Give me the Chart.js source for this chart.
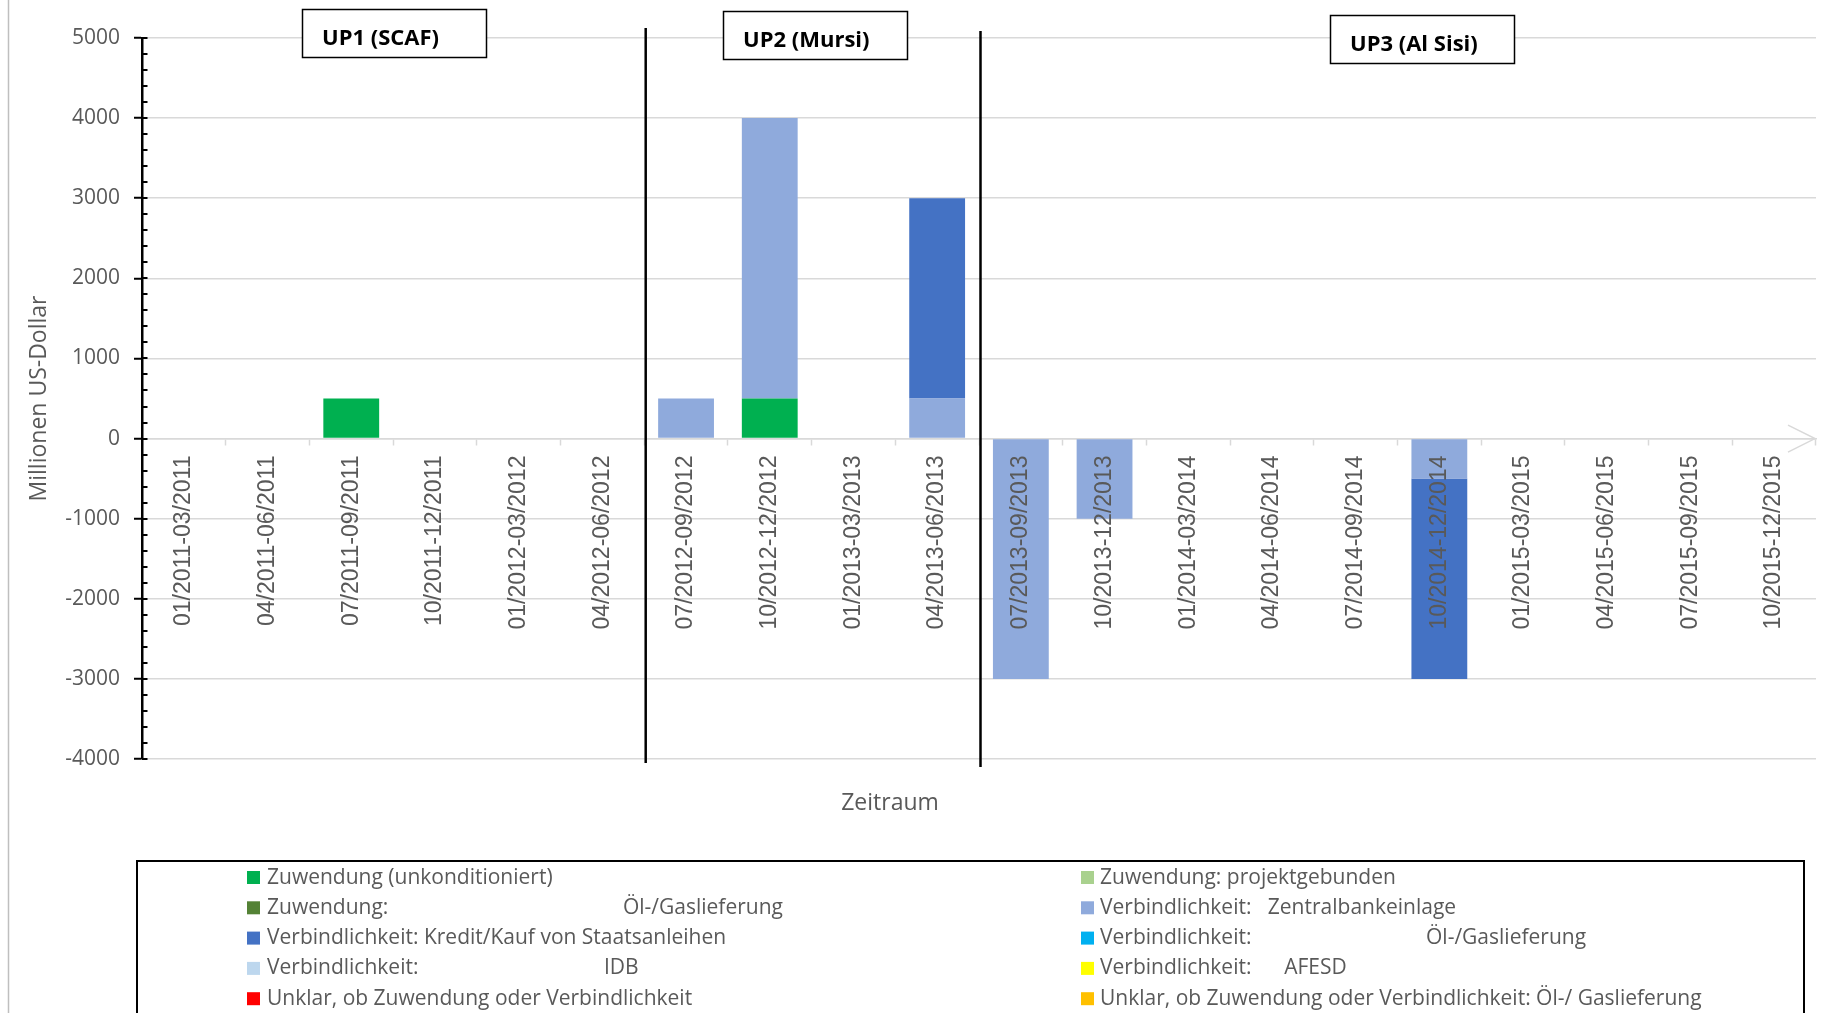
<!DOCTYPE html>
<html lang="de">
<head>
<meta charset="utf-8">
<title>Finanzhilfen an Ägypten nach Zeitraum</title>
<script src="https://cdn.jsdelivr.net/npm/chart.js@4/dist/chart.umd.min.js"></script>
<style>
  html, body { margin: 0; padding: 0; background: #ffffff; overflow: hidden; }
  #wrap { position: relative; width: 1823px; height: 1013px; }
</style>
</head>
<body>
<div id="wrap"><canvas id="chart"></canvas></div>
<script>
// Quarters on the category axis
const quarters = [
  '01/2011-03/2011', '04/2011-06/2011', '07/2011-09/2011', '10/2011-12/2011',
  '01/2012-03/2012', '04/2012-06/2012', '07/2012-09/2012', '10/2012-12/2012',
  '01/2013-03/2013', '04/2013-06/2013', '07/2013-09/2013', '10/2013-12/2013',
  '01/2014-03/2014', '04/2014-06/2014', '07/2014-09/2014', '10/2014-12/2014',
  '01/2015-03/2015', '04/2015-06/2015', '07/2015-09/2015', '10/2015-12/2015'
];

// Amounts per quarter, million US dollars
const zuwendungUnkonditioniert = [0, 0, 500, 0, 0, 0, 0, 500, 0, 0, 0, 0, 0, 0, 0, 0, 0, 0, 0, 0];
const zuwendungProjektgebunden = [];
const zuwendungOelGas = [];
const zentralbankeinlage = [0, 0, 0, 0, 0, 0, 500, 3500, 0, 500, -3000, -1000, 0, 0, 0, -500, 0, 0, 0, 0];
const kreditStaatsanleihen = [0, 0, 0, 0, 0, 0, 0, 0, 0, 2500, 0, 0, 0, 0, 0, -2500, 0, 0, 0, 0];
const verbindlichkeitOelGas = [];
const verbindlichkeitIDB = [];
const verbindlichkeitAFESD = [];
const unklar = [];
const unklarOelGas = [];

// Series names as printed in the legend
const seriesLabels = [
  'Zuwendung (unkonditioniert)',
  'Zuwendung: projektgebunden',
  'Zuwendung:' + ' '.repeat(43) + 'Öl-/Gaslieferung',
  'Verbindlichkeit:   Zentralbankeinlage',
  'Verbindlichkeit: Kredit/Kauf von Staatsanleihen',
  'Verbindlichkeit:' + ' '.repeat(32) + 'Öl-/Gaslieferung',
  'Verbindlichkeit:' + ' '.repeat(34) + 'IDB',
  'Verbindlichkeit:' + ' '.repeat(6) + 'AFESD',
  'Unklar, ob Zuwendung oder Verbindlichkeit',
  'Unklar, ob Zuwendung oder Verbindlichkeit: Öl-/ Gaslieferung'
];
const seriesValues = [
  zuwendungUnkonditioniert, zuwendungProjektgebunden, zuwendungOelGas,
  zentralbankeinlage, kreditStaatsanleihen, verbindlichkeitOelGas,
  verbindlichkeitIDB, verbindlichkeitAFESD, unklar, unklarOelGas
];
const seriesColors = [
  '#00B050', '#A9D18E', '#548235', '#8FAADC', '#4472C4',
  '#00B0F0', '#BDD7EE', '#FFFF00', '#FF0000', '#FFC000'
];

// Value axis
const valueMin = -4000;
const valueMax = 5000;
const valueStep = 1000;
const valueMinorStep = 200;

// Government periods and the quarter boundaries between them
const periodNames = ['UP1 (SCAF)', 'UP2 (Mursi)', 'UP3 (Al Sisi)'];
const periodBoundaries = [5.5, 9.5];

const axisTitleY = 'Millionen US-Dollar';
const axisTitleX = 'Zeitraum';

const CALIBRI_LIKE = "'Open Sans', 'Noto Sans', sans-serif";
const LABEL_FONT = "'Liberation Sans', Arial, sans-serif";
const TEXT_GREY = '#595959';
const GRID_GREY = '#D9D9D9';

// Extra drawing: frame edge, minor ticks, axis arrow, period dividers and boxes, axis title, legend
const decorations = {
  id: 'decorations',
  afterDraw(chart) {
    const { ctx, chartArea } = chart;
    const x = chart.scales.x;
    const y = chart.scales.y;
    ctx.save();

    // thin frame edge on the left
    ctx.strokeStyle = '#BFBFBF';
    ctx.lineWidth = 1.5;
    ctx.beginPath();
    ctx.moveTo(8.5, 0);
    ctx.lineTo(8.5, chart.height);
    ctx.stroke();

    // inner tick marks on the value axis
    ctx.strokeStyle = '#000000';
    ctx.lineWidth = 2;
    for (let v = valueMin; v <= valueMax; v += valueMinorStep) {
      const py = Math.round(y.getPixelForValue(v));
      ctx.beginPath();
      ctx.moveTo(chartArea.left, py);
      ctx.lineTo(chartArea.left + 5.5, py);
      ctx.stroke();
    }

    // open arrow head at the end of the category axis
    const y0 = y.getPixelForValue(0);
    ctx.strokeStyle = GRID_GREY;
    ctx.lineWidth = 1.5;
    ctx.beginPath();
    ctx.moveTo(x.right - 28, y0 - 13.5);
    ctx.lineTo(x.right - 1, y0);
    ctx.lineTo(x.right - 28, y0 + 13.5);
    ctx.stroke();

    // vertical dividers between the periods
    const dividerSpans = [[28, 763], [31, 767]];
    ctx.strokeStyle = '#000000';
    ctx.lineWidth = 2.5;
    periodBoundaries.forEach((b, i) => {
      const px = x.getPixelForValue(b) + 1.5;
      ctx.beginPath();
      ctx.moveTo(px, dividerSpans[i][0]);
      ctx.lineTo(px, dividerSpans[i][1]);
      ctx.stroke();
    });

    // period name boxes
    const boxPos = [[302, 9], [723, 11], [1330, 15]];
    ctx.font = "bold 22px 'Open Sans', sans-serif";
    ctx.textBaseline = 'alphabetic';
    ctx.textAlign = 'left';
    periodNames.forEach((name, i) => {
      const [bx, by] = boxPos[i];
      ctx.fillStyle = '#FFFFFF';
      ctx.fillRect(bx, by, 184, 48);
      ctx.strokeStyle = '#000000';
      ctx.lineWidth = 1.5;
      ctx.strokeRect(bx + 0.5, by + 0.5, 184, 48);
      ctx.fillStyle = '#000000';
      ctx.fillText(name, bx + 20, by + 36);
    });

    // category axis title
    ctx.font = "23px 'Open Sans', sans-serif";
    ctx.fillStyle = TEXT_GREY;
    ctx.textAlign = 'center';
    ctx.fillText(axisTitleX, 890, 810);

    // legend
    ctx.fillStyle = '#FFFFFF';
    ctx.fillRect(137, 861, 1667, 170);
    ctx.strokeStyle = '#000000';
    ctx.lineWidth = 2;
    ctx.strokeRect(137, 861, 1667, 170);
    ctx.font = "21px 'Open Sans', sans-serif";
    ctx.textAlign = 'left';
    const colMarker = [247, 1081];
    const colText = [267, 1100];
    chart.data.datasets.forEach((ds, i) => {
      const row = Math.floor(i / 2);
      const col = i % 2;
      const base = 883.5 + row * 30.3;
      ctx.fillStyle = ds.backgroundColor;
      ctx.fillRect(colMarker[col], base - 12.5, 13, 13);
      ctx.fillStyle = TEXT_GREY;
      ctx.fillText(ds.label, colText[col], base);
    });

    ctx.restore();
  }
};

const datasets = seriesLabels.map((label, i) => ({
  label: label,
  data: seriesValues[i],
  backgroundColor: seriesColors[i],
  borderWidth: 0,
  categoryPercentage: 1.0,
  barPercentage: 0.667
}));

new Chart(document.getElementById('chart'), {
  type: 'bar',
  data: { labels: quarters, datasets: datasets },
  options: {
    responsive: true,
    maintainAspectRatio: false,
    animation: false,
    events: [],
    layout: { padding: { left: 0, top: 38, right: 7, bottom: 254 } },
    plugins: {
      legend: { display: false },
      tooltip: { enabled: false },
      title: { display: false }
    },
    scales: {
      x: {
        stacked: true,
        position: { y: 0 },
        offset: true,
        afterFit(scale) { scale.height = 0; },
        grid: {
          offset: true,
          drawOnChartArea: false,
          drawTicks: true,
          tickLength: 6,
          tickColor: GRID_GREY,
          tickWidth: 1.5
        },
        border: { display: true, color: GRID_GREY, width: 1.5 },
        ticks: {
          z: 1,
          autoSkip: false,
          minRotation: 90,
          maxRotation: 90,
          padding: 11,
          color: TEXT_GREY,
          font: { family: LABEL_FONT, size: 23 }
        }
      },
      y: {
        stacked: true,
        min: valueMin,
        max: valueMax,
        afterFit(scale) { scale.width = 142; },
        grid: {
          color: GRID_GREY,
          lineWidth: 1.5,
          drawTicks: true,
          tickLength: 8,
          tickColor: '#000000',
          tickWidth: 2
        },
        border: { display: true, color: '#000000', width: 2.5 },
        ticks: {
          stepSize: valueStep,
          padding: 14,
          color: TEXT_GREY,
          font: { family: CALIBRI_LIKE, size: 21 },
          callback: (value) => String(value)
        },
        title: {
          display: true,
          text: axisTitleY,
          color: TEXT_GREY,
          font: { family: CALIBRI_LIKE, size: 23 },
          padding: { top: 26, bottom: 0 }
        }
      }
    }
  },
  plugins: [decorations]
});
</script>
</body>
</html>
